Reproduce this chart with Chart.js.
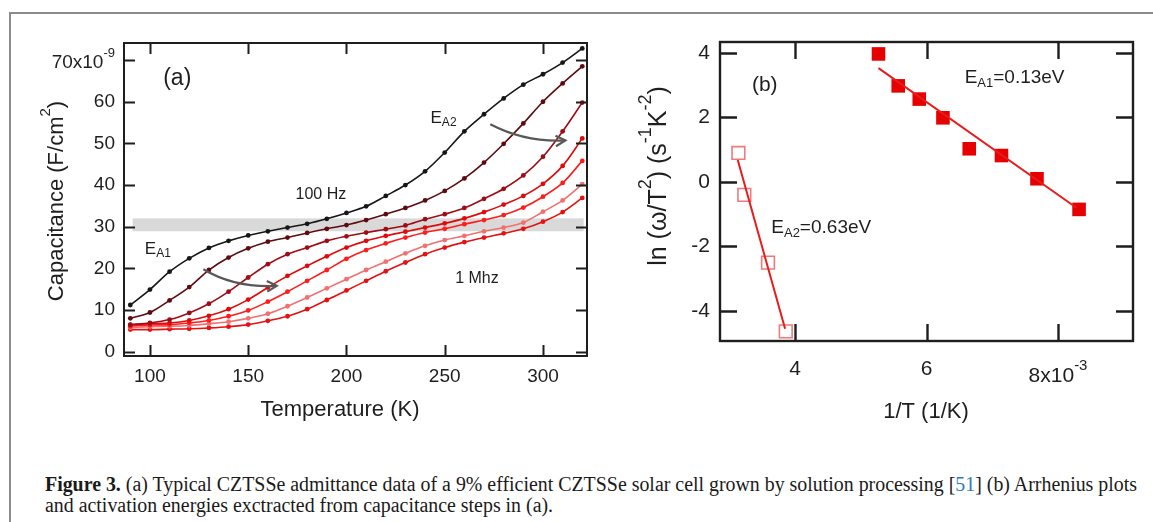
<!DOCTYPE html>
<html>
<head>
<meta charset="utf-8">
<script src="https://cdn.jsdelivr.net/npm/chart.js@4.4.1/dist/chart.umd.min.js"></script>
<style>
  body { margin: 0; background: #fff; width: 1153px; height: 522px; overflow: hidden; position: relative; }
  #frame { position: absolute; left: 9px; top: 12px; width: 1160px; height: 530px; border-top: 2px solid #8c8c8c; border-left: 2px solid #8c8c8c; }
  canvas { position: absolute; }
  #ca { left: 0; top: 20px; }
  #cb { left: 610px; top: 20px; }
  .ln { position: absolute; left: 45px; white-space: nowrap; font-family: "Liberation Serif", "Times New Roman", serif; font-size: 20px; line-height: 21px; color: #1a1a1a; transform-origin: 0 50%; }
  #l1 { top: 474px; }
  #l2 { top: 495px; }
  .ref { color: #2b7bb9; }
</style>
</head>
<body>
<div id="frame"></div>
<canvas id="ca" width="600" height="420"></canvas>
<canvas id="cb" width="543" height="420"></canvas>
<div class="ln" id="l1"><span id="l1t"><b>Figure 3.</b> (a) Typical CZTSSe admittance data of a 9% efficient CZTSSe solar cell grown by solution processing [<span class="ref">51</span>] (b) Arrhenius plots</span></div>
<div class="ln" id="l2">and activation energies exctracted from capacitance steps in (a).</div>
<script>
// panel (a): capacitance (x1e-9 F/cm2) vs temperature, 100 Hz ... 1 MHz
const temperature = [90, 100, 110, 120, 130, 140, 150, 160, 170, 180, 190, 200, 210, 220, 230, 240, 250, 260, 270, 280, 290, 300, 310, 320];
const cap100Hz = [11.2, 14.9, 19.2, 22.4, 24.9, 26.6, 27.9, 28.9, 29.8, 30.7, 31.9, 33.3, 34.9, 37.4, 40.0, 43.3, 47.8, 52.9, 57.0, 60.8, 64.1, 66.6, 69.4, 72.8];
const capF2 = [8.0, 9.4, 12.3, 15.5, 19.6, 22.6, 24.8, 26.4, 27.4, 28.5, 29.5, 30.4, 31.6, 33.0, 34.5, 36.3, 38.6, 41.6, 45.4, 49.9, 54.8, 60.0, 64.4, 68.5];
const capF3 = [6.5, 6.9, 7.7, 9.3, 11.5, 14.4, 17.8, 21.0, 23.4, 25.0, 26.6, 27.7, 28.6, 29.4, 30.3, 31.8, 33.0, 34.5, 36.7, 39.1, 42.3, 46.8, 52.9, 59.8];
const capF4 = [6.4, 6.7, 6.9, 7.5, 8.6, 10.2, 12.5, 15.4, 18.2, 20.6, 22.9, 25.0, 26.6, 27.8, 28.8, 29.8, 30.8, 32.0, 33.5, 35.3, 37.4, 40.3, 44.6, 51.2];
const capF5 = [6.1, 6.4, 6.5, 6.9, 7.5, 8.5, 9.9, 12.0, 14.4, 17.0, 19.6, 22.3, 24.4, 26.0, 27.4, 28.6, 29.5, 30.6, 31.6, 32.8, 34.6, 37.2, 40.5, 45.8];
const capF6 = [5.8, 6.0, 6.1, 6.3, 6.7, 7.2, 8.0, 9.1, 10.9, 13.0, 15.2, 17.4, 19.6, 21.6, 23.6, 25.4, 26.8, 27.8, 28.9, 29.8, 31.0, 33.6, 36.3, 40.2];
const cap1MHz = [5.3, 5.3, 5.4, 5.5, 5.7, 6.0, 6.5, 7.4, 8.5, 10.2, 12.4, 14.7, 17.0, 19.3, 21.4, 23.4, 25.0, 26.3, 27.4, 28.4, 29.5, 31.2, 33.5, 36.9];
const aXTicks = [100, 150, 200, 250, 300];
const aXTickLabels = ['100', '150', '200', '250', '300'];
const aYTicks = [0, 10, 20, 30, 40, 50, 60, 70];
const aYTickLabels = ['0', '10', '20', '30', '40', '50', '60', '70x10^{-9}'];

// panel (b): Arrhenius plots
const invT_A1 = [5.27e-3, 5.57e-3, 5.89e-3, 6.25e-3, 6.65e-3, 7.14e-3, 7.68e-3, 8.32e-3];
const ln_A1 = [3.97, 2.98, 2.57, 1.99, 1.03, 0.82, 0.10, -0.85];
const invT_A2 = [3.14e-3, 3.23e-3, 3.59e-3, 3.86e-3];
const ln_A2 = [0.9, -0.4, -2.5, -4.63];
const fitA1_x = [5.27e-3, 8.28e-3];
const fitA1_y = [3.53, -0.80];
const fitA2_x = [3.13e-3, 3.85e-3];
const fitA2_y = [0.68, -4.55];
const bXTicks = [4e-3, 6e-3, 8e-3];
const bXTickLabels = ['4', '6', '8x10^{-3}'];
const bYTicks = [-4, -2, 0, 2, 4];
const bYTickLabels = ['-4', '-2', '0', '2', '4'];

const FAM = '"Liberation Sans", Arial, sans-serif';
const INK = '#1e1e1e';

// tiny markup: ^{sup} and _{sub}
function parseRich(s) {
  const parts = [], re = /([\^_])\{([^}]*)\}/g;
  let last = 0, m;
  while ((m = re.exec(s))) {
    if (m.index > last) parts.push([s.slice(last, m.index), 0]);
    parts.push([m[2], m[1] === '^' ? 1 : -1]);
    last = re.lastIndex;
  }
  if (last < s.length) parts.push([s.slice(last), 0]);
  return parts;
}

function rich(ctx, s, x, y, size, align) {
  const parts = parseRich(s);
  const fonts = parts.map(p => (p[1] ? Math.round(size * 0.7) : size) + 'px ' + FAM);
  let w = 0;
  const ws = parts.map((p, i) => { ctx.font = fonts[i]; const m = ctx.measureText(p[0]).width; w += m; return m; });
  let cx = align === 'center' ? x - w / 2 : align === 'right' ? x - w : x;
  ctx.textAlign = 'left';
  ctx.textBaseline = 'middle';
  parts.forEach((p, i) => {
    ctx.font = fonts[i];
    const dy = p[1] === 1 ? -size * 0.5 : p[1] === -1 ? size * 0.28 : 0;
    ctx.fillText(p[0], cx, y + dy);
    cx += ws[i];
  });
}

function arrow(ctx, p0, c, p1) {
  ctx.beginPath();
  ctx.moveTo(p0[0], p0[1]);
  ctx.quadraticCurveTo(c[0], c[1], p1[0], p1[1]);
  ctx.stroke();
  const ang = Math.atan2(p1[1] - c[1], p1[0] - c[0]);
  ctx.beginPath();
  ctx.moveTo(p1[0] - 11 * Math.cos(ang - 0.5), p1[1] - 11 * Math.sin(ang - 0.5));
  ctx.lineTo(p1[0], p1[1]);
  ctx.lineTo(p1[0] - 11 * Math.cos(ang + 0.5), p1[1] - 11 * Math.sin(ang + 0.5));
  ctx.stroke();
}

// frame, inward ticks on all sides, labels, titles and notes
const igorFrame = {
  id: 'igorFrame',
  beforeDatasetsDraw(chart, args, o) {
    if (!o.band) return;
    const { ctx, scales: { x, y } } = chart;
    const x0 = x.getPixelForValue(o.band[0]), x1 = x.getPixelForValue(o.band[1]);
    const y0 = y.getPixelForValue(o.band[3]), y1 = y.getPixelForValue(o.band[2]);
    ctx.save();
    ctx.fillStyle = '#d9d9d9';
    ctx.fillRect(x0, y0, x1 - x0, y1 - y0);
    ctx.restore();
  },
  afterDatasetsDraw(chart, args, o) {
    const { ctx, chartArea: a, scales: { x, y } } = chart;
    ctx.save();
    ctx.strokeStyle = INK;
    ctx.lineWidth = o.lw;
    ctx.strokeRect(a.left, a.top, a.right - a.left, a.bottom - a.top);
    ctx.beginPath();
    o.xTicks.forEach(v => {
      const px = Math.round(x.getPixelForValue(v)) + 0.5;
      ctx.moveTo(px, a.bottom); ctx.lineTo(px, a.bottom - o.len);
      ctx.moveTo(px, a.top); ctx.lineTo(px, a.top + o.len);
    });
    o.yTicks.forEach(v => {
      const py = Math.round(y.getPixelForValue(v)) + 0.5;
      ctx.moveTo(a.left, py); ctx.lineTo(a.left + o.len, py);
      ctx.moveTo(a.right, py); ctx.lineTo(a.right - o.len, py);
    });
    ctx.stroke();

    ctx.fillStyle = INK;
    o.xTicks.forEach((v, i) => {
      const s = o.xLabels[i];
      const dy = s.includes('^') ? o.supDrop : 0;
      rich(ctx, s, x.getPixelForValue(v), a.bottom + o.xLabOff + dy, o.tickSize, 'center');
    });
    o.yTicks.forEach((v, i) => {
      const s = o.yLabels[i];
      const dy = s.includes('^') ? o.supDrop : 0;
      rich(ctx, s, a.left - o.yLabGap, y.getPixelForValue(v) + dy, o.tickSize, 'right');
    });
    rich(ctx, o.xTitle, o.xTitleX, a.bottom + o.xTitleOff, o.titleSize, 'center');
    ctx.save();
    ctx.translate(o.yTitleX, o.yTitleY);
    ctx.rotate(-Math.PI / 2);
    rich(ctx, o.yTitle, 0, 0, o.yTitleSize, 'center');
    ctx.restore();

    (o.notes || []).forEach(n => {
      rich(ctx, n.text, x.getPixelForValue(n.x), y.getPixelForValue(n.y), n.size, n.align || 'center');
    });
    ctx.strokeStyle = '#585858';
    ctx.lineWidth = 2.2;
    (o.arrows || []).forEach(ar => {
      const p = q => [x.getPixelForValue(q[0]), y.getPixelForValue(q[1])];
      arrow(ctx, p(ar[0]), p(ar[1]), p(ar[2]));
    });
    ctx.restore();
  }
};

const seriesA = [cap100Hz, capF2, capF3, capF4, capF5, capF6, cap1MHz];
const coloursA = ['#161616', '#5e0b10', '#9e0c16', '#df0a0a', '#ff1c1c', '#f27070', '#e41212'];

new Chart(document.getElementById('ca'), {
  type: 'line',
  data: {
    datasets: seriesA.map((vals, i) => ({
      data: vals.map((v, k) => ({ x: temperature[k], y: v })),
      borderColor: coloursA[i],
      backgroundColor: coloursA[i],
      borderWidth: 1.6,
      pointRadius: 2.4,
      pointBorderWidth: 0,
      tension: 0.35
    }))
  },
  options: {
    responsive: false,
    animation: false,
    events: [],
    layout: { padding: { top: 23, right: 13, left: 0, bottom: 0 } },
    plugins: {
      legend: { display: false },
      tooltip: { enabled: false },
      igorFrame: {
        lw: 2, len: 11, tickSize: 19, titleSize: 22, yTitleSize: 22, supDrop: 3,
        xTicks: aXTicks, xLabels: aXTickLabels, yTicks: aYTicks, yLabels: aYTickLabels,
        xLabOff: 21, yLabGap: 9,
        xTitle: 'Temperature (K)', xTitleX: 340, xTitleOff: 54,
        yTitle: 'Capacitance (F/cm^{2})', yTitleX: 57, yTitleY: 181,
        band: [91.2, 320.7, 28.9, 32.0],
        notes: [
          { text: '(a)', x: 113.9, y: 65.6, size: 23 },
          { text: '100 Hz', x: 187, y: 37.6, size: 16 },
          { text: '1 Mhz', x: 266.4, y: 17.6, size: 16 },
          { text: 'E_{A1}', x: 104, y: 24.6, size: 17 },
          { text: 'E_{A2}', x: 249.4, y: 56, size: 17 }
        ],
        arrows: [
          [[127.2, 19.8], [143, 15.3], [164.5, 15.8]],
          [[273.2, 54.6], [291, 50.2], [311.4, 50.7]]
        ]
      }
    },
    scales: {
      x: { type: 'linear', min: 86.8, max: 322.4, grid: { display: false }, border: { display: false }, ticks: { display: false }, afterFit: s => { s.height = 84; } },
      y: { type: 'linear', min: -1.04, max: 74.1, grid: { display: false }, border: { display: false }, ticks: { display: false }, afterFit: s => { s.width = 124; } }
    }
  },
  plugins: [igorFrame]
});

const toXY = (xs, ys) => xs.map((v, i) => ({ x: v, y: ys[i] }));

new Chart(document.getElementById('cb'), {
  type: 'scatter',
  data: {
    datasets: [
      { data: toXY(fitA1_x, fitA1_y), showLine: true, borderColor: '#e81c1c', borderWidth: 2, pointRadius: 0 },
      { data: toXY(fitA2_x, fitA2_y), showLine: true, borderColor: '#e81c1c', borderWidth: 2, pointRadius: 0 },
      { data: toXY(invT_A1, ln_A1), pointStyle: 'rect', pointRadius: 9.6, backgroundColor: '#e60000', borderColor: '#e60000', borderWidth: 0 },
      { data: toXY(invT_A2, ln_A2), pointStyle: 'rect', pointRadius: 9, backgroundColor: 'rgba(255,255,255,0)', borderColor: '#ee7b7b', borderWidth: 1.6 }
    ]
  },
  options: {
    responsive: false,
    animation: false,
    events: [],
    layout: { padding: { top: 22, right: 20, left: 0, bottom: 0 } },
    plugins: {
      legend: { display: false },
      tooltip: { enabled: false },
      igorFrame: {
        lw: 2.4, len: 17, tickSize: 21, titleSize: 22, yTitleSize: 25, supDrop: 7,
        xTicks: bXTicks, xLabels: bXTickLabels, yTicks: bYTicks, yLabels: bYTickLabels,
        xLabOff: 28, yLabGap: 10,
        xTitle: '1/T (1/K)', xTitleX: 316, xTitleOff: 71,
        yTitle: 'ln (ω/T^{2}) (s^{-1}K^{-2})', yTitleX: 49, yTitleY: 156,
        notes: [
          { text: '(b)', x: 3.54e-3, y: 3.01, size: 21 },
          { text: 'E_{A1}=0.13eV', x: 6.58e-3, y: 3.22, size: 19, align: 'left' },
          { text: 'E_{A2}=0.63eV', x: 3.64e-3, y: -1.43, size: 19, align: 'left' }
        ]
      }
    },
    scales: {
      x: { type: 'linear', min: 2.86e-3, max: 9.14e-3, grid: { display: false }, border: { display: false }, ticks: { display: false }, afterFit: s => { s.height = 99; } },
      y: { type: 'linear', min: -4.93, max: 4.34, grid: { display: false }, border: { display: false }, ticks: { display: false }, afterFit: s => { s.width = 110; } }
    }
  },
  plugins: [igorFrame]
});

// squeeze the caption to the width of the original column
const w1 = document.getElementById('l1t').getBoundingClientRect().width;
const k = 1092 / w1;
document.getElementById('l1').style.transform = 'scaleX(' + k + ')';
document.getElementById('l2').style.transform = 'scaleX(' + k + ')';
</script>
</body>
</html>
